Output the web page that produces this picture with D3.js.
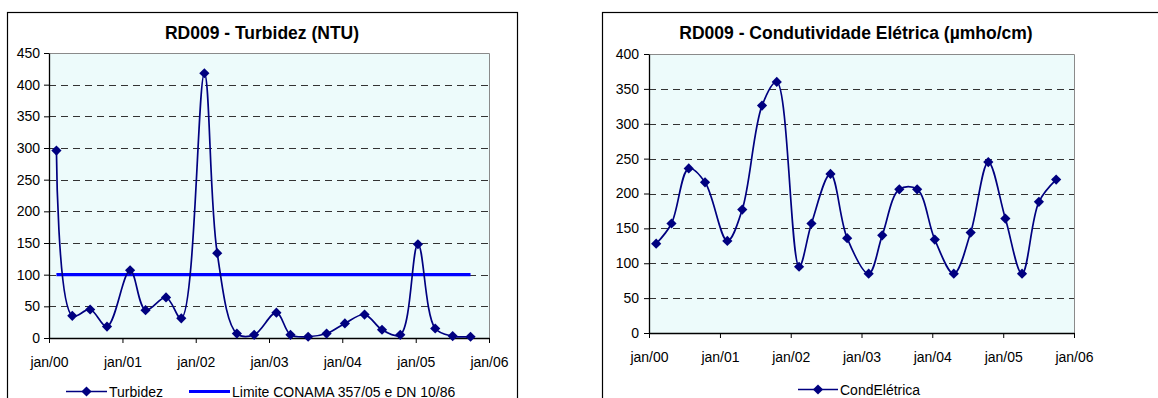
<!DOCTYPE html>
<html><head><meta charset="utf-8">
<script src="https://cdn.jsdelivr.net/npm/d3@7"></script>
<style>
body{margin:0;background:#fff}
svg{display:block;font-family:"Liberation Sans",Arial,sans-serif}
</style>
</head><body>
<svg id="c" width="1158" height="398"></svg>
<script>
// ---------- data ----------
const sampleDates = ["2000-02-07","2000-04-26","2000-07-24","2000-10-16",
  "2001-02-08","2001-04-26","2001-08-06","2001-10-21",
  "2002-02-13","2002-04-18","2002-07-25","2002-10-19",
  "2003-02-07","2003-04-18","2003-07-15","2003-10-15",
  "2004-01-14","2004-04-21","2004-07-17","2004-10-16",
  "2005-01-12","2005-04-08","2005-07-04","2005-10-01"];
const turbidez = [296,35,45,18,107,44,64,31,418,134,7,5,40,5,2,7,23,37,13,5,148,15,3,2];
const limiteConama = [100,100,100,100,100,100,100,100,100,100,100,100,100,100,100,100,100,100,100,100,100,100,100,100];
const condEletrica = [128,157,236,216,132,177,326,360,95,157,228,136,85,140,206,206,134,85,144,245,164,85,188,220];
const xTickDates = ["2000-01-01","2001-01-01","2002-01-01","2003-01-01","2004-01-01","2005-01-01","2006-01-01"];
const xTickLabels = ["jan/00","jan/01","jan/02","jan/03","jan/04","jan/05","jan/06"];
const turbTicks = [0,50,100,150,200,250,300,350,400,450];
const condTicks = [0,50,100,150,200,250,300,350,400];
const titles = ["RD009 - Turbidez (NTU)", "RD009 - Condutividade Elétrica (\u00B5mho/cm)"];
const legendTurb = ["Turbidez", "Limite CONAMA 357/05 e DN 10/86"];
const legendCond = ["CondElétrica"];

// ---------- helpers ----------
const parse = d3.timeParse("%Y-%m-%d");
const dates = sampleDates.map(parse);
const tickDates = xTickDates.map(parse);
const svg = d3.select("#c");
const NAVY = "#000080", BLUE = "#0000ff";
const diamond = d3.symbol(d3.symbolSquare, 52);

function drawChart(o) {
  const g = svg.append("g");
  g.append("rect").attr("x", o.frame[0] + 0.5).attr("y", o.frame[1] + 0.5)
    .attr("width", o.frame[2]).attr("height", o.frame[3])
    .attr("fill", "#fff").attr("stroke", "#000").attr("stroke-width", 1.2);
  g.append("text").attr("x", o.titleX).attr("y", o.titleY).attr("text-anchor", "middle")
    .attr("font-size", 17.5).attr("font-weight", "bold").attr("fill", "#000").text(o.title);

  const x = d3.scaleTime().domain([tickDates[0], tickDates[tickDates.length - 1]]).range([o.L, o.R]);
  const y = d3.scaleLinear().domain([0, o.ticks[o.ticks.length - 1]]).range([o.B, o.T]);

  g.append("rect").attr("x", o.L).attr("y", o.T).attr("width", o.R - o.L).attr("height", o.B - o.T)
    .attr("fill", "#edfbfb");
  g.append("path").attr("d", `M${o.L},${o.T + 0.5}H${o.R + 0.5}V${o.B}`)
    .attr("fill", "none").attr("stroke", "#8a8a8a").attr("stroke-width", 1);
  g.append("g").selectAll("line").data(o.ticks.slice(1, -1)).join("line")
    .attr("x1", o.L).attr("x2", o.R)
    .attr("y1", d => Math.round(y(d)) + 0.5).attr("y2", d => Math.round(y(d)) + 0.5)
    .attr("stroke", "#333").attr("stroke-width", 1).attr("stroke-dasharray", "7,5");

  const ya = g.append("g").attr("transform", `translate(${o.L},0)`)
    .call(d3.axisLeft(y).tickValues(o.ticks).tickSize(5).tickSizeOuter(0).tickPadding(o.yPad));
  const xa = g.append("g").attr("transform", `translate(0,${o.B})`)
    .call(d3.axisBottom(x).tickValues(tickDates).tickFormat((d, i) => xTickLabels[i])
      .tickSize(5).tickSizeOuter(0).tickPadding(o.xPad));
  [ya, xa].forEach(a => {
    a.attr("font-family", null).attr("font-size", null);
    a.select(".domain").attr("stroke", "#000").attr("stroke-width", 1.3);
    a.selectAll(".tick line").attr("stroke", "#000");
    a.selectAll("text").attr("font-size", 14).attr("fill", "#000");
  });

  o.series.forEach(s => {
    const pts = s.values.map((v, i) => ({ d: dates[i], v }));
    const line = d3.line().x(p => x(p.d)).y(p => y(p.v));
    line.curve(s.smooth ? d3.curveCatmullRom.alpha(0.5) : d3.curveLinear);
    g.append("path").datum(pts).attr("d", line).attr("fill", "none")
      .attr("stroke", s.color).attr("stroke-width", s.width);
    if (s.marker) {
      g.append("g").selectAll("path").data(pts).join("path")
        .attr("d", diamond)
        .attr("transform", p => `translate(${x(p.d)},${y(p.v)}) rotate(45)`)
        .attr("fill", NAVY);
    }
  });

  o.legend.forEach(l => {
    g.append("line").attr("x1", l.x1).attr("x2", l.x2).attr("y1", l.y).attr("y2", l.y)
      .attr("stroke", l.color).attr("stroke-width", l.width);
    if (l.marker) g.append("path").attr("d", diamond)
      .attr("transform", `translate(${(l.x1 + l.x2) / 2},${l.y}) rotate(45)`).attr("fill", NAVY);
    g.append("text").attr("x", l.x2 + 2).attr("y", l.ty).attr("font-size", 14).attr("fill", "#000").text(l.label);
  });
}

drawChart({
  frame: [7, 12, 510, 420],
  title: titles[0], titleX: 262, titleY: 38.5,
  L: 49, R: 489, T: 53, B: 338, ticks: turbTicks, yPad: 4, xPad: 14,
  series: [
    { values: limiteConama, color: BLUE, width: 3.2, smooth: false, marker: false },
    { values: turbidez, color: NAVY, width: 1.7, smooth: true, marker: true }
  ],
  legend: [
    { x1: 66, x2: 107, y: 391.5, ty: 396.5, color: NAVY, width: 1.7, marker: true, label: legendTurb[0] },
    { x1: 189, x2: 230, y: 391.5, ty: 396.5, color: BLUE, width: 3.2, marker: false, label: legendTurb[1] }
  ]
});

drawChart({
  frame: [602, 12, 600, 420],
  title: titles[1], titleX: 856, titleY: 38.5,
  L: 649, R: 1074, T: 54, B: 333, ticks: condTicks, yPad: 5, xPad: 14,
  series: [
    { values: condEletrica, color: NAVY, width: 1.7, smooth: true, marker: true }
  ],
  legend: [
    { x1: 798, x2: 838, y: 389.5, ty: 394.5, color: NAVY, width: 1.7, marker: true, label: legendCond[0] }
  ]
});
</script>
</body></html>
